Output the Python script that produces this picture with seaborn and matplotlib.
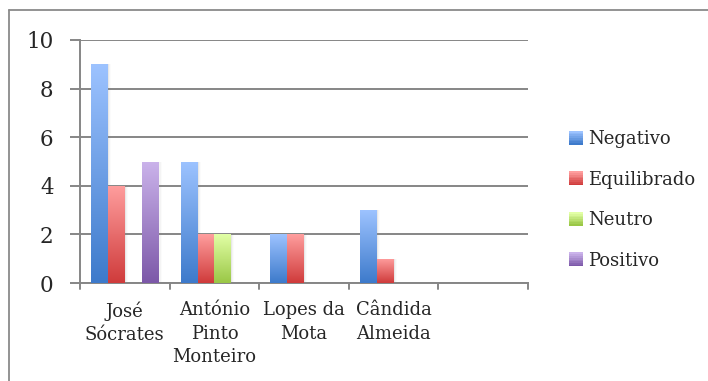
import numpy as np
import pandas as pd
import matplotlib
matplotlib.use("Agg")
import matplotlib.pyplot as plt
from matplotlib.colors import LinearSegmentedColormap, to_rgb
from matplotlib.patches import Patch, Rectangle
from matplotlib.legend_handler import HandlerBase
import seaborn as sns

# Media coverage tone per person
categories = ["José\nSócrates", "António\nPinto\nMonteiro", "Lopes da\nMota", "Cândida\nAlmeida", ""]
series = ["Negativo", "Equilibrado", "Neutro", "Positivo"]
negativo = [9, 5, 2, 3, 0]
equilibrado = [4, 2, 2, 1, 0]
neutro = [0, 2, 0, 0, 0]
positivo = [5, 0, 0, 0, 0]
y_ticks = [0, 2, 4, 6, 8, 10]

# light (top) -> dark (bottom) gradient colours per series
grad = {
    "Negativo": ("#9DC3FF", "#3D7ACB"),
    "Equilibrado": ("#FF9E9E", "#CF3B3B"),
    "Neutro": ("#E2FFA6", "#9AC746"),
    "Positivo": ("#CBB3EB", "#7C58A8"),
}

df = pd.DataFrame({
    "person": np.repeat(categories, len(series)),
    "tone": series * len(categories),
    "count": np.array([negativo, equilibrado, neutro, positivo]).T.ravel(),
})

sns.set_theme(style="white")
plt.rcParams["font.family"] = ["DejaVu Serif"]

fig = plt.figure(figsize=(7.08, 3.81), dpi=100)
ax = fig.add_axes([80 / 708, 1 - 283 / 381, 448 / 708, 243 / 381])

palette = {s: grad[s][1] for s in series}
sns.barplot(data=df, x="person", y="count", hue="tone", order=categories,
            hue_order=series, palette=palette, width=0.75, ax=ax,
            legend=False, saturation=1, zorder=3)

# repaint each bar with a vertical gradient
for container, s in zip(ax.containers, series):
    cmap = LinearSegmentedColormap.from_list(s, [grad[s][1], grad[s][0]])
    for patch in container.patches:
        h = patch.get_height()
        if h <= 0:
            patch.set_visible(False)
            continue
        x0 = patch.get_x()
        w = patch.get_width()
        # soft shadow to the right of the bar
        for k, a in enumerate([0.10, 0.06, 0.03]):
            ax.add_patch(Rectangle((x0 + w, 0), 0.012 * (k + 1), h,
                                   color="#888888", alpha=a, lw=0, zorder=2))
        patch.set_facecolor("none")
        patch.set_edgecolor("none")
        grad_arr = np.linspace(0, 1, 256).reshape(-1, 1)
        im = ax.imshow(grad_arr, cmap=cmap, origin="lower", aspect="auto",
                       extent=(x0, x0 + w, 0, h), zorder=3)
        im.set_clip_path(patch)

ax.set_xlim(-0.5, len(categories) - 0.5)
ax.set_ylim(0, 10)
ax.set_yticks(y_ticks)
ax.set_yticklabels([str(t) for t in y_ticks], fontsize=15.5)
ax.set_xticks(np.arange(len(categories)))
ax.set_xticklabels(categories, fontsize=13, linespacing=1.4)
ax.set_xlabel("")
ax.set_ylabel("")

grid_c = "#868686"
for t in y_ticks:
    ax.axhline(t, color=grid_c, lw=1.4, zorder=1)
for side in ["top", "right"]:
    ax.spines[side].set_visible(False)
for side in ["left", "bottom"]:
    ax.spines[side].set_color(grid_c)
    ax.spines[side].set_linewidth(1.4)
ax.tick_params(axis="y", length=7, width=1.4, color=grid_c, pad=12, left=True)
ax.tick_params(axis="x", length=0, pad=13)
# category boundary ticks
for b in np.arange(-0.5, len(categories), 1.0):
    ax.plot([b, b], [0, -0.26], color=grid_c, lw=1.4, clip_on=False, zorder=4)


class GradientSwatch(HandlerBase):
    """Legend key drawn as a small vertical gradient square."""

    def create_artists(self, legend, orig_handle, xdescent, ydescent,
                       width, height, fontsize, trans):
        top, bottom = (np.array(to_rgb(c)) for c in orig_handle._grad)
        n = 8
        artists = []
        side = min(width, height)
        x0 = -xdescent
        y0 = -ydescent + (height - side) / 2
        for i in range(n):
            f = i / (n - 1)
            col = bottom * (1 - f) + top * f
            artists.append(Rectangle((x0, y0 + side * i / n), side, side / n + 0.2,
                                     facecolor=col, edgecolor="none", transform=trans))
        return artists


handles = []
for s in series:
    p = Patch(facecolor=grad[s][1])
    p._grad = grad[s]
    handles.append(p)

fig.legend(handles, series, loc="center left", bbox_to_anchor=(553 / 708, 1 - 200 / 381),
           frameon=False, fontsize=13, handlelength=0.8, handleheight=0.8,
           handletextpad=0.25, labelspacing=1.25,
           handler_map={Patch: GradientSwatch()})

# chart border (top and left edges)
fig.add_artist(plt.Line2D([9 / 708, 9 / 708], [0, 1 - 10 / 381], transform=fig.transFigure,
                          color="#8a8a8a", lw=1.3))
fig.add_artist(plt.Line2D([9 / 708, 1], [1 - 10 / 381, 1 - 10 / 381], transform=fig.transFigure,
                          color="#8a8a8a", lw=1.3))

fig.savefig("out.png", dpi=100, facecolor="white")
